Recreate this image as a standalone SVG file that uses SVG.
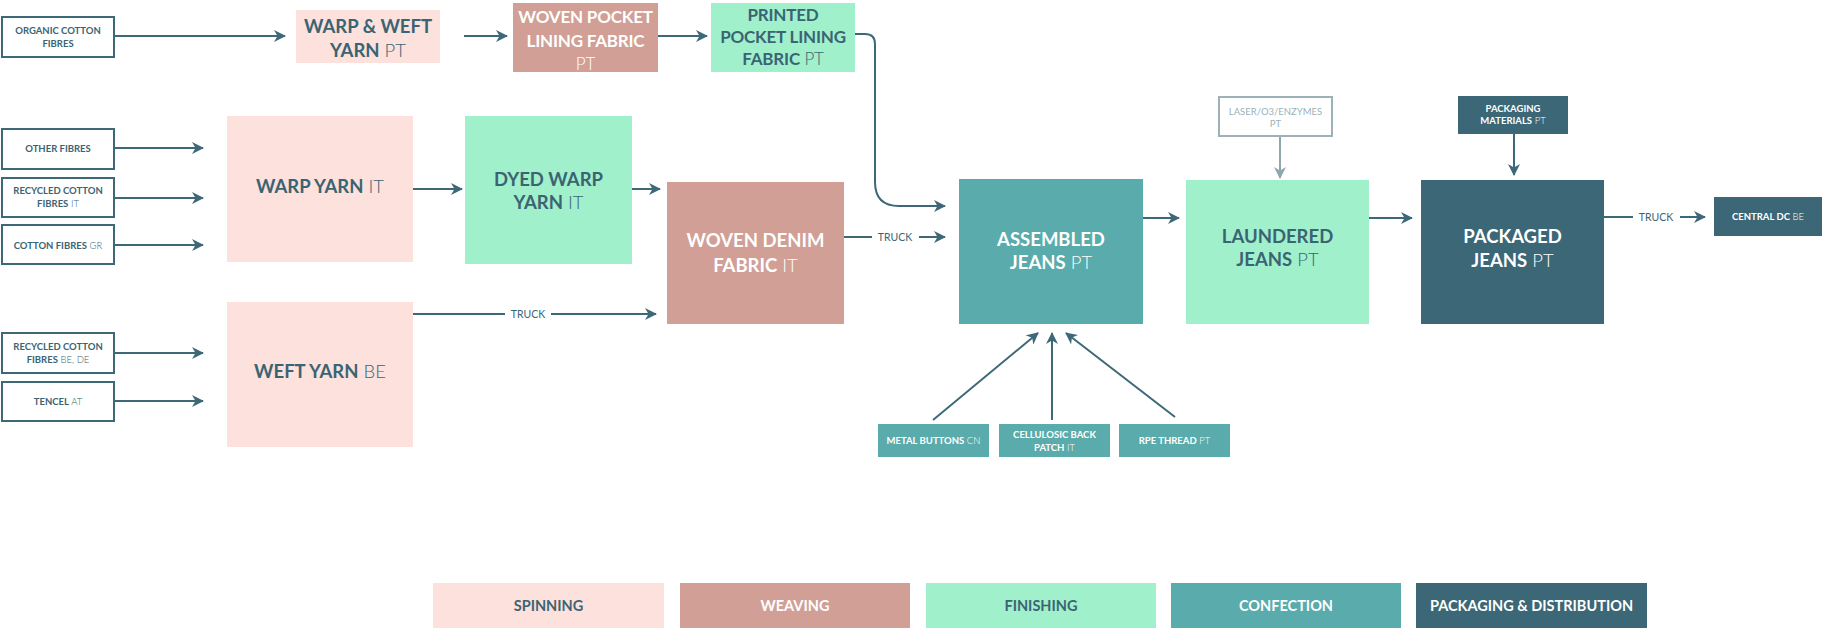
<svg xmlns="http://www.w3.org/2000/svg" width="1822" height="628" viewBox="0 0 1822 628">
<style>
text{font-family:Lato,"Open Sans","Liberation Sans",sans-serif;text-anchor:middle}
.b{font-weight:700}
.l{font-weight:300}
.big{font-size:18.5px}
.mid{font-size:17px;letter-spacing:-0.2px}
.sm{font-size:9.5px}
.lg{font-size:14.5px;font-weight:700}
.tr{font-size:10.5px;font-weight:400;fill:#3b6473}
.dk{fill:#3b6473}
.wh{fill:#ffffff}
.gr{fill:#9cb1b8}
.src{fill:#ffffff;stroke:#3d6877;stroke-width:2}
.spin{fill:#fde1dc}
.weav{fill:#d19f96}
.fin{fill:#a0f0cc}
.conf{fill:#5aabab}
.pack{fill:#3b6776}
.ln{fill:none;stroke:#3d6877;stroke-width:2}
.lng{fill:none;stroke:#8fa6ae;stroke-width:2}
</style>
<defs>
<marker id="ah" viewBox="0 0 12 12" refX="11" refY="6" markerWidth="12" markerHeight="12" markerUnits="userSpaceOnUse" orient="auto">
<path d="M0,0 L12,6 L0,12 L3.5,6 z" fill="#3d6877"/>
</marker>
<marker id="ahg" viewBox="0 0 12 12" refX="11" refY="6" markerWidth="12" markerHeight="12" markerUnits="userSpaceOnUse" orient="auto">
<path d="M0,0 L12,6 L0,12 L3.5,6 z" fill="#8fa6ae"/>
</marker>
</defs>

<g id="connectors">
<line class="ln" x1="114" y1="36" x2="285" y2="36" marker-end="url(#ah)"/>
<line class="ln" x1="464" y1="36" x2="507" y2="36" marker-end="url(#ah)"/>
<line class="ln" x1="658" y1="36" x2="707" y2="36" marker-end="url(#ah)"/>
<path class="ln" d="M855,34 H865 Q875,34 875,44 V182 Q875,206 899,206 H945" marker-end="url(#ah)"/>
<line class="ln" x1="114" y1="148" x2="203" y2="148" marker-end="url(#ah)"/>
<line class="ln" x1="114" y1="198" x2="203" y2="198" marker-end="url(#ah)"/>
<line class="ln" x1="114" y1="245" x2="203" y2="245" marker-end="url(#ah)"/>
<line class="ln" x1="114" y1="353" x2="203" y2="353" marker-end="url(#ah)"/>
<line class="ln" x1="114" y1="401" x2="203" y2="401" marker-end="url(#ah)"/>
<line class="ln" x1="413" y1="189" x2="462" y2="189" marker-end="url(#ah)"/>
<line class="ln" x1="632" y1="189" x2="660" y2="189" marker-end="url(#ah)"/>
<line class="ln" x1="413" y1="314" x2="505" y2="314"/>
<text class="tr" x="528" y="318">TRUCK</text>
<line class="ln" x1="551" y1="314" x2="656" y2="314" marker-end="url(#ah)"/>
<line class="ln" x1="844" y1="237" x2="872" y2="237"/>
<text class="tr" x="895" y="241">TRUCK</text>
<line class="ln" x1="919" y1="237" x2="945" y2="237" marker-end="url(#ah)"/>
<line class="ln" x1="1143" y1="218" x2="1179" y2="218" marker-end="url(#ah)"/>
<line class="lng" x1="1280" y1="136" x2="1280" y2="178" marker-end="url(#ahg)"/>
<line class="ln" x1="1369" y1="218" x2="1412" y2="218" marker-end="url(#ah)"/>
<line class="ln" x1="1514" y1="134" x2="1514" y2="175" marker-end="url(#ah)"/>
<line class="ln" x1="1604" y1="217" x2="1633" y2="217"/>
<text class="tr" x="1656" y="221">TRUCK</text>
<line class="ln" x1="1680" y1="217" x2="1705" y2="217" marker-end="url(#ah)"/>
<line class="ln" x1="933" y1="420" x2="1038" y2="333" marker-end="url(#ah)"/>
<line class="ln" x1="1052" y1="420" x2="1052" y2="333" marker-end="url(#ah)"/>
<line class="ln" x1="1175" y1="417" x2="1066" y2="333" marker-end="url(#ah)"/>
</g>

<g id="organic-cotton">
<rect class="src" x="2" y="17" width="112" height="40"/>
<text class="sm dk b" x="58" y="34">ORGANIC COTTON</text>
<text class="sm dk b" x="58" y="47">FIBRES</text>
</g>
<g id="other-fibres">
<rect class="src" x="2" y="129" width="112" height="40"/>
<text class="sm dk b" x="58" y="152">OTHER FIBRES</text>
</g>
<g id="recycled-it">
<rect class="src" x="2" y="178" width="112" height="39"/>
<text class="sm dk b" x="58" y="194">RECYCLED COTTON</text>
<text class="sm dk" x="58" y="207"><tspan class="b">FIBRES</tspan><tspan class="l"> IT</tspan></text>
</g>
<g id="cotton-gr">
<rect class="src" x="2" y="225" width="112" height="39"/>
<text class="sm dk" x="58" y="249"><tspan class="b">COTTON FIBRES</tspan><tspan class="l"> GR</tspan></text>
</g>
<g id="recycled-be">
<rect class="src" x="2" y="333" width="112" height="40"/>
<text class="sm dk b" x="58" y="350">RECYCLED COTTON</text>
<text class="sm dk" x="58" y="363"><tspan class="b">FIBRES</tspan><tspan class="l"> BE, DE</tspan></text>
</g>
<g id="tencel">
<rect class="src" x="2" y="382" width="112" height="39"/>
<text class="sm dk" x="58" y="405"><tspan class="b">TENCEL</tspan><tspan class="l"> AT</tspan></text>
</g>

<g id="warp-weft-yarn">
<rect class="spin" x="296" y="10" width="144" height="53"/>
<text class="big dk b" x="368" y="33">WARP &amp; WEFT</text>
<text class="big dk" x="368" y="57"><tspan class="b">YARN</tspan><tspan class="l"> PT</tspan></text>
</g>
<g id="woven-pocket">
<rect class="weav" x="513" y="3" width="145" height="69"/>
<text class="mid wh b" x="585.5" y="23">WOVEN POCKET</text>
<text class="mid wh b" x="585.5" y="47">LINING FABRIC</text>
<text class="mid wh l" x="585.5" y="70">PT</text>
</g>
<g id="printed-pocket">
<rect class="fin" x="711" y="3" width="144" height="69"/>
<text class="mid dk b" x="783" y="21">PRINTED</text>
<text class="mid dk b" x="783" y="43">POCKET LINING</text>
<text class="mid dk" x="783" y="65"><tspan class="b">FABRIC</tspan><tspan class="l"> PT</tspan></text>
</g>
<g id="warp-yarn">
<rect class="spin" x="227" y="116" width="186" height="146"/>
<text class="big dk" x="320" y="193"><tspan class="b">WARP YARN</tspan><tspan class="l"> IT</tspan></text>
</g>
<g id="weft-yarn">
<rect class="spin" x="227" y="302" width="186" height="145"/>
<text class="big dk" x="320" y="378"><tspan class="b">WEFT YARN</tspan><tspan class="l"> BE</tspan></text>
</g>
<g id="dyed-warp-yarn">
<rect class="fin" x="465" y="116" width="167" height="148"/>
<text class="big dk b" x="548.5" y="186">DYED WARP</text>
<text class="big dk" x="548.5" y="209"><tspan class="b">YARN</tspan><tspan class="l"> IT</tspan></text>
</g>
<g id="woven-denim">
<rect class="weav" x="667" y="182" width="177" height="142"/>
<text class="big wh b" x="755.5" y="247">WOVEN DENIM</text>
<text class="big wh" x="755.5" y="272"><tspan class="b">FABRIC</tspan><tspan class="l"> IT</tspan></text>
</g>
<g id="assembled-jeans">
<rect class="conf" x="959" y="179" width="184" height="145"/>
<text class="big wh b" x="1051" y="246">ASSEMBLED</text>
<text class="big wh" x="1051" y="269"><tspan class="b">JEANS</tspan><tspan class="l"> PT</tspan></text>
</g>
<g id="laser">
<rect fill="#ffffff" stroke="#9cb1b8" stroke-width="2" x="1219" y="97" width="113" height="39"/>
<text class="sm gr" x="1275.5" y="115">LASER/O3/ENZYMES</text>
<text class="sm gr" x="1275.5" y="127">PT</text>
</g>
<g id="laundered-jeans">
<rect class="fin" x="1186" y="180" width="183" height="144"/>
<text class="big dk b" x="1277.5" y="243">LAUNDERED</text>
<text class="big dk" x="1277.5" y="266"><tspan class="b">JEANS</tspan><tspan class="l"> PT</tspan></text>
</g>
<g id="packaging-materials">
<rect class="pack" x="1458" y="96" width="110" height="38"/>
<text class="sm wh b" x="1513" y="112">PACKAGING</text>
<text class="sm wh" x="1513" y="124"><tspan class="b">MATERIALS</tspan><tspan class="l"> PT</tspan></text>
</g>
<g id="packaged-jeans">
<rect class="pack" x="1421" y="180" width="183" height="144"/>
<text class="big wh b" x="1512.5" y="243">PACKAGED</text>
<text class="big wh" x="1512.5" y="267"><tspan class="b">JEANS</tspan><tspan class="l"> PT</tspan></text>
</g>
<g id="central-dc">
<rect class="pack" x="1714" y="197" width="108" height="39"/>
<text class="sm wh" x="1768" y="220"><tspan class="b">CENTRAL DC</tspan><tspan class="l"> BE</tspan></text>
</g>
<g id="metal-buttons">
<rect class="conf" x="878" y="424" width="111" height="33"/>
<text class="sm wh" x="933.5" y="444"><tspan class="b">METAL BUTTONS</tspan><tspan class="l"> CN</tspan></text>
</g>
<g id="back-patch">
<rect class="conf" x="999" y="424" width="111" height="33"/>
<text class="sm wh b" x="1054.5" y="438">CELLULOSIC BACK</text>
<text class="sm wh" x="1054.5" y="451"><tspan class="b">PATCH</tspan><tspan class="l"> IT</tspan></text>
</g>
<g id="rpe-thread">
<rect class="conf" x="1119" y="424" width="111" height="33"/>
<text class="sm wh" x="1174.5" y="444"><tspan class="b">RPE THREAD</tspan><tspan class="l"> PT</tspan></text>
</g>

<g id="legend">
<rect class="spin" x="433" y="583" width="231" height="45"/>
<text class="lg dk" x="548.5" y="611">SPINNING</text>
<rect class="weav" x="680" y="583" width="230" height="45"/>
<text class="lg wh" x="795" y="611">WEAVING</text>
<rect class="fin" x="926" y="583" width="230" height="45"/>
<text class="lg dk" x="1041" y="611">FINISHING</text>
<rect class="conf" x="1171" y="583" width="230" height="45"/>
<text class="lg wh" x="1286" y="611">CONFECTION</text>
<rect class="pack" x="1416" y="583" width="231" height="45"/>
<text class="lg wh" x="1531.5" y="611">PACKAGING &amp; DISTRIBUTION</text>
</g>
</svg>
